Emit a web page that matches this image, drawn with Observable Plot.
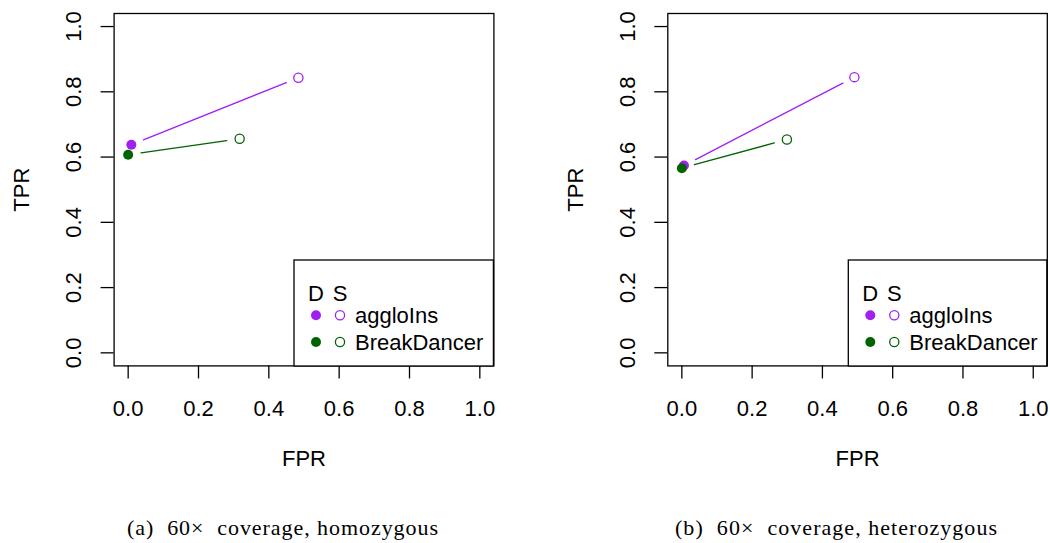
<!DOCTYPE html>
<html>
<head>
<meta charset="utf-8">
<script src="https://cdn.jsdelivr.net/npm/d3@7"></script>
<script src="https://cdn.jsdelivr.net/npm/@observablehq/plot@0.6"></script>
<style>
  html, body { margin: 0; padding: 0; background: #fff; }
  #wrap { position: relative; width: 1050px; height: 543px; overflow: hidden; background: #fff; }
  .panel { position: absolute; top: 0; }
  #overlay { position: absolute; left: 0; top: 0; pointer-events: none; }
</style>
</head>
<body>
<div id="wrap">
  <div class="panel" id="left" style="left:0px"></div>
  <div class="panel" id="right" style="left:525px"></div>
  <svg id="overlay" width="1050" height="543"></svg>
</div>
<script>
// ---------- data ----------
const methods = ["aggloIns", "BreakDancer"];
const methodColors = ["#A020F0", "#006400"];

// (a) 60x coverage, homozygous
const homoFprD = [0.009, 0.000];
const homoTprD = [0.638, 0.607];
const homoFprS = [0.484, 0.317];
const homoTprS = [0.843, 0.656];

// (b) 60x coverage, heterozygous
const hetFprD = [0.006, 0.000];
const hetTprD = [0.574, 0.566];
const hetFprS = [0.491, 0.299];
const hetTprS = [0.845, 0.654];

const ticks = [0, 0.2, 0.4, 0.6, 0.8, 1.0];
const tickLabels = ["0.0", "0.2", "0.4", "0.6", "0.8", "1.0"];
const captions = ["(a)  60\u00d7  coverage, homozygous", "(b)  60\u00d7  coverage, heterozygous"];
const legendHeader = ["D", "S"];
const xLabel = "FPR";
const yLabel = "TPR";

// ---------- chart ----------
const FONT = "'Liberation Sans', Arial, Helvetica, sans-serif";
const FS = 22;
const fmt = d => tickLabels[ticks.findIndex(t => Math.abs(t - d) < 1e-9)];

function panel(fprD, tprD, fprS, tprS, marginLeft, marginRight) {
  const rows = methods.map((m, i) => ({method: m, fprD: fprD[i], tprD: tprD[i], fprS: fprS[i], tprS: tprS[i]}));
  return Plot.plot({
    width: 525,
    height: 480,
    marginTop: 13,
    marginBottom: 114.6,
    marginLeft,
    marginRight,
    style: {fontFamily: FONT, fontSize: FS + "px", background: "white", color: "black", overflow: "visible"},
    x: {domain: [-0.04, 1.04]},
    y: {domain: [-0.04, 1.04]},
    color: {domain: methods, range: methodColors},
    marks: [
      Plot.frame({stroke: "black", strokeWidth: 1.3}),
      Plot.axisX({ticks, tickSize: 13, tickPadding: 21, tickFormat: fmt, label: null, strokeWidth: 1.3, fontSize: FS}),
      Plot.axisY({ticks, tickSize: 13, tickFormat: () => "", label: null, strokeWidth: 1.3}),
      Plot.text(ticks, {y: d => d, text: fmt, frameAnchor: "left", dx: -40, rotate: -90,
        textAnchor: "middle", lineAnchor: "middle", fontSize: FS, fill: "black"}),
      Plot.text([xLabel], {text: d => d, frameAnchor: "bottom", dy: 93, lineAnchor: "middle", fontSize: FS, fill: "black"}),
      Plot.text([yLabel], {text: d => d, frameAnchor: "left", dx: -92, rotate: -90,
        textAnchor: "middle", lineAnchor: "middle", fontSize: FS, fill: "black"}),
      Plot.arrow(rows, {x1: "fprD", y1: "tprD", x2: "fprS", y2: "tprS", stroke: "method",
        headLength: 0, inset: 13, strokeWidth: 1.3}),
      Plot.dot(rows, {x: "fprS", y: "tprS", stroke: "method", fill: "none", r: 4.6, strokeWidth: 1.3}),
      Plot.dot(rows, {x: "fprD", y: "tprD", fill: "method", r: 5})
    ]
  });
}

document.getElementById("left").appendChild(panel(homoFprD, homoTprD, homoFprS, homoTprS, 113.6, 31.6));
document.getElementById("right").appendChild(panel(hetFprD, hetTprD, hetFprS, hetTprS, 142.3, 3.2));

// ---------- legends & captions ----------
const svg = d3.select("#overlay");
const legendBoxes = [{left: 294, right: 493.4}, {left: 848.3, right: 1046.8}];
legendBoxes.forEach(b => {
  const g = svg.append("g").attr("transform", `translate(${b.left},260)`);
  g.append("rect").attr("x", 0).attr("y", 0).attr("width", b.right - b.left).attr("height", 106)
    .attr("fill", "white").attr("stroke", "black").attr("stroke-width", 1.3);
  g.append("text").attr("x", 22).attr("y", 41).attr("text-anchor", "middle")
    .attr("font-family", FONT).attr("font-size", FS).text(legendHeader[0]);
  g.append("text").attr("x", 46).attr("y", 41).attr("text-anchor", "middle")
    .attr("font-family", FONT).attr("font-size", FS).text(legendHeader[1]);
  methods.forEach((m, i) => {
    const cy = 55.3 + i * 26.7;
    g.append("circle").attr("cx", 22).attr("cy", cy).attr("r", 5).attr("fill", methodColors[i]);
    g.append("circle").attr("cx", 46).attr("cy", cy).attr("r", 4.6).attr("fill", "none")
      .attr("stroke", methodColors[i]).attr("stroke-width", 1.3);
    g.append("text").attr("x", 61).attr("y", cy + 8).attr("font-family", FONT).attr("font-size", FS).text(m);
  });
});

const capCenters = [282.5, 836];
const capWidths = [311, 322];
captions.forEach((c, i) => {
  svg.append("text").attr("x", capCenters[i]).attr("y", 535).attr("text-anchor", "middle")
    .attr("font-family", "'Liberation Serif', 'Times New Roman', serif").attr("font-size", 22)
    .attr("textLength", capWidths[i]).attr("lengthAdjust", "spacing")
    .style("white-space", "pre").text(c);
});
</script>
</body>
</html>
